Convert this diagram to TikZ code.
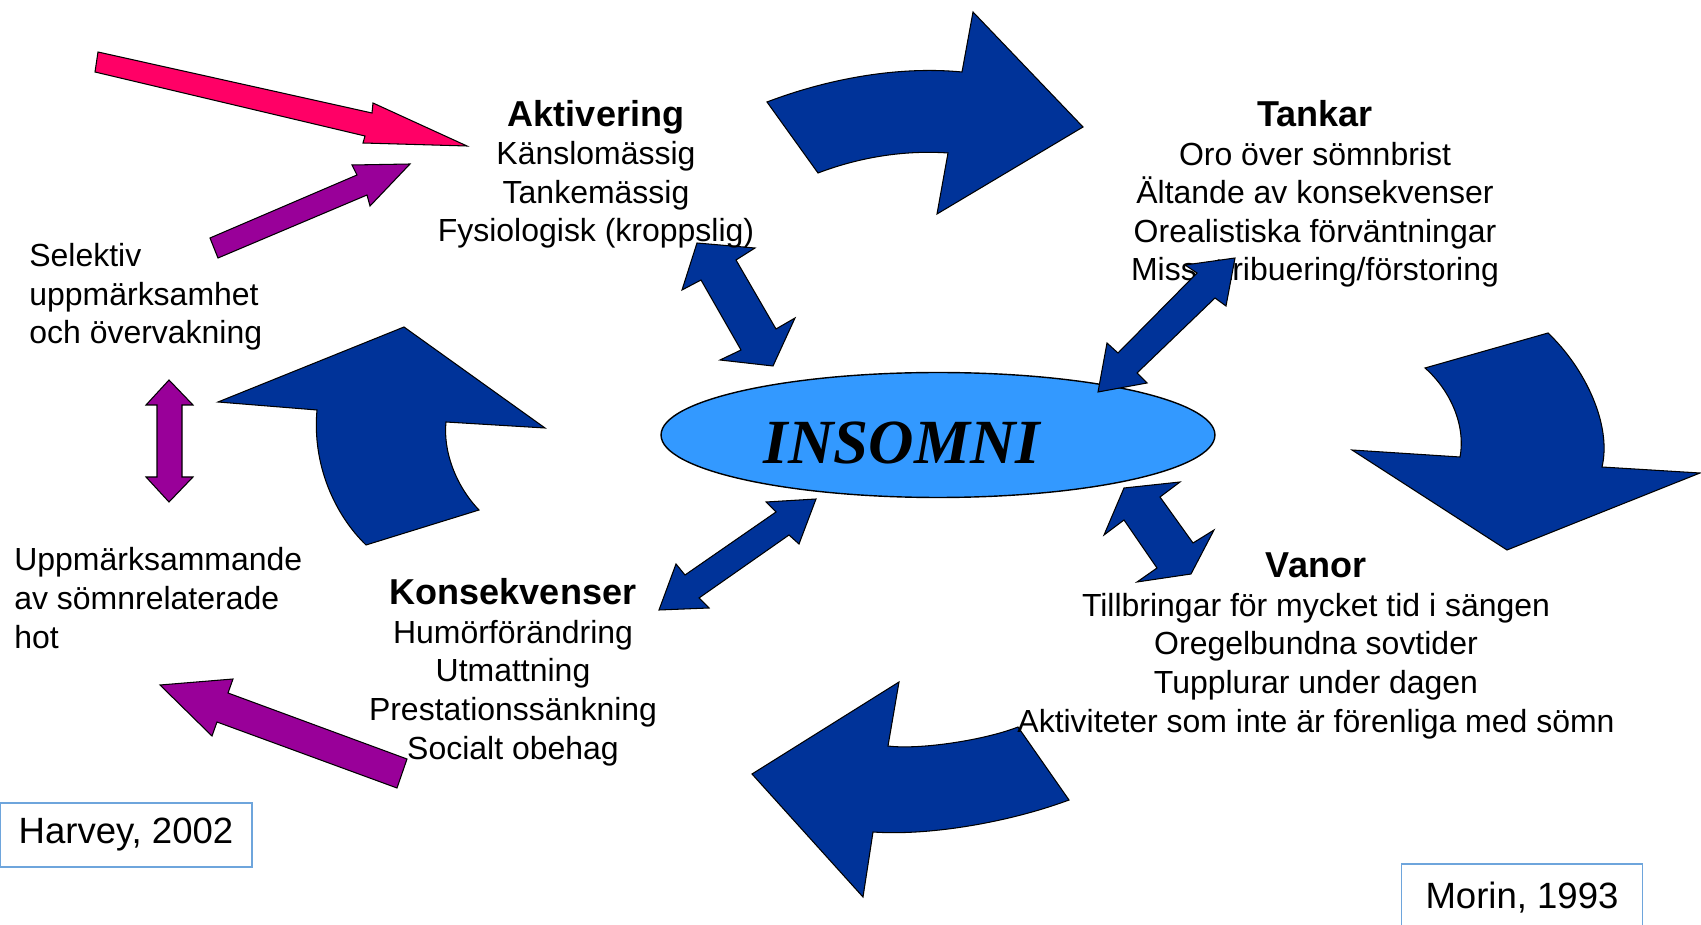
\documentclass[tikz,border=0pt]{standalone}
\usepackage{fontspec}
\setmainfont{Liberation Sans}
\newfontfamily\insfont{Liberation Serif}
\usetikzlibrary{shapes.geometric}
\definecolor{darkblue}{RGB}{0,51,153}
\definecolor{hotpink}{RGB}{255,0,102}
\definecolor{violet}{RGB}{153,0,153}
\definecolor{lightblue}{RGB}{51,153,255}
\definecolor{boxblue}{RGB}{110,165,220}
\newcommand\blockhead[1]{{\bfseries\fontsize{20.5}{22}\selectfont #1}}
\begin{document}
\begin{tikzpicture}[x=0.02cm,y=-0.02cm,
  txt/.style={inner sep=0pt,font=\fontsize{18.2}{22}\selectfont},
  block/.style={txt,align=center,anchor=base},
  side/.style={txt,align=left,anchor=base west},
  ref/.style={draw=boxblue,line width=1pt,inner sep=0pt,font=\fontsize{20.8}{22}\selectfont},
  bluearrow/.style={fill=darkblue,draw=black,line width=0.6pt},
  pinkarrow/.style={bluearrow,fill=hotpink},
  violetarrow/.style={bluearrow,fill=violet}]
  \useasboundingbox (0,0) rectangle (1701,925);
  \node (tankar) [block] at (1315,281) {\blockhead{Tankar}\\Oro över sömnbrist\\Ältande av konsekvenser\\Orealistiska förväntningar\\Missattribuering/förstoring};
  \node (insomni) [ellipse,fill=lightblue,draw=black,line width=0.8pt,minimum width=11.08cm,minimum height=2.5cm,inner sep=0pt] at (938,435) {};
  \node (insomnitext) [inner sep=0pt,font=\insfont\fontsize{35.8}{40}\selectfont\bfseries\itshape] at (902,443) {INSOMNI};
  \draw [bluearrow] (767,102) .. controls (830,78) and (900,66) .. (962,72) -- (973,12) -- (1083,127) -- (937,214) -- (948,153) .. controls (905,150) and (860,157) .. (818,173) -- cycle;
  \draw [bluearrow] (1425,368) -- (1548,333) .. controls (1585,368) and (1612,425) .. (1602,467) -- (1700,473) -- (1507,550) -- (1352,450) -- (1460,457) .. controls (1466,425) and (1450,390) .. (1425,368) -- cycle;
  \draw [bluearrow] (1018,727) .. controls (985,740) and (920,750) .. (888,746) -- (899,682) -- (752,774) -- (863,897) -- (873,832) .. controls (930,836) and (1010,822) .. (1069,800) -- cycle;
  \draw [bluearrow] (404,327) -- (545,428) -- (446,422) .. controls (443,450) and (455,485) .. (479,510) -- (366,545) .. controls (335,515) and (312,465) .. (317,410) -- (218,402) -- cycle;
  \draw [bluearrow] (697,243) -- (755,248) -- (736,260) -- (776,329) -- (795,318) -- (773,366) -- (720,360) -- (741,350) -- (701,280) -- (682,290) -- cycle;
  \draw [bluearrow] (1235,258) -- (1226,306) -- (1215,298) -- (1137,373) -- (1147,383) -- (1098,392) -- (1107,343) -- (1118,353) -- (1197,273) -- (1185,265) -- cycle;
  \draw [bluearrow] (816,499) -- (799,544) -- (789,535) -- (699,598) -- (709,608) -- (659,610) -- (676,564) -- (685,575) -- (776,512) -- (766,502) -- cycle;
  \draw [bluearrow] (1124,488) -- (1180,482) -- (1160,497) -- (1193,543) -- (1214,530) -- (1191,574) -- (1137,582) -- (1157,568) -- (1124,520) -- (1104,535) -- cycle;
  \draw [pinkarrow] (98,52) -- (372,113) -- (373,103) -- (467,146) -- (363,143) -- (365,136) -- (95,72) -- cycle;
  \draw [violetarrow] (210,238) -- (357,175) -- (352,165) -- (410,164) -- (370,206) -- (367,195) -- (218,258) -- cycle;
  \draw [violetarrow] (169,380) -- (193,405) -- (182,405) -- (182,477) -- (193,477) -- (169,502) -- (146,477) -- (157,477) -- (157,405) -- (146,405) -- cycle;
  \draw [violetarrow] (160,685) -- (233,679) -- (228,693) -- (407,759) -- (397,788) -- (217,722) -- (212,736) -- cycle;
  \node (aktiv) [block] at (596,242) {\blockhead{Aktivering}\\Känslomässig\\Tankemässig\\Fysiologisk (kroppslig)};
  \node (konsek) [block] at (513,759) {\blockhead{Konsekvenser}\\Humörförändring\\Utmattning\\Prestationssänkning\\Socialt obehag};
  \node (vanor) [block] at (1316,732) {\blockhead{Vanor}\\Tillbringar för mycket tid i sängen\\Oregelbundna sovtider\\Tupplurar under dagen\\Aktiviteter som inte är förenliga med sömn};
  \node (selekt) [side] at (29,344) {Selektiv\\uppmärksamhet\\och övervakning};
  \node (uppm) [side] at (14,648) {Uppmärksammande\\av sömnrelaterade\\hot};
  \node (harvey) [ref,minimum width=5.04cm,minimum height=1.28cm] at (126,835) {Harvey, 2002};
  \node (morin) [ref,minimum width=4.82cm,minimum height=1.36cm] at (1522,898) {Morin, 1993};
\end{tikzpicture}
\end{document}
